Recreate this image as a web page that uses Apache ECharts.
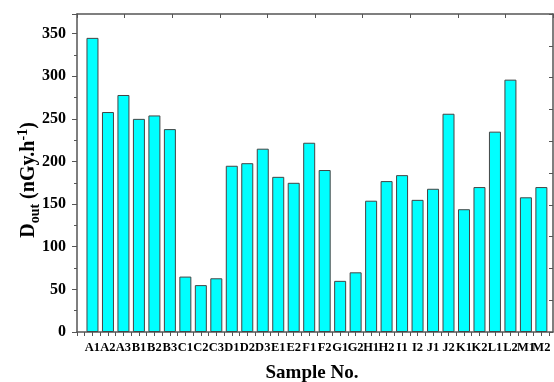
<!DOCTYPE html>
<html>
<head>
<meta charset="utf-8">
<script src="https://cdn.jsdelivr.net/npm/echarts@6/dist/echarts.min.js"></script>
<style>
  html, body { margin: 0; padding: 0; background: #fff; }
  #chart { width: 554px; height: 382px; }
</style>
</head>
<body>
<div id="chart"></div>
<script>
const samples = ['A1', 'A2', 'A3', 'B1', 'B2', 'B3', 'C1', 'C2', 'C3', 'D1', 'D2', 'D3', 'E1', 'E2', 'F1',
  'F2', 'G1', 'G2', 'H1', 'H2', 'I1', 'I2', 'J1', 'J2', 'K1', 'K2', 'L1', 'L2', 'M1', 'M2']
const dose = [345, 258, 278, 250, 254, 238, 65, 55, 63, 195, 198, 215, 182, 175, 222,
  190, 60, 70, 154, 177, 184, 155, 168, 256, 144, 170, 235, 296, 158, 170]
const yTicks = [0, 50, 100, 150, 200, 250, 300, 350]

const serif = 'Liberation Serif'
const axisColor = '#555'

const chart = echarts.init(document.getElementById('chart'))

chart.setOption({
  animation: false,
  grid: { left: 77, right: 1, top: 14, bottom: 50, outerBoundsMode: 'none' },
  xAxis: [{
    type: 'value',
    min: 0,
    max: 30.75,
    interval: 0.5,
    name: 'Sample No.',
    nameLocation: 'middle',
    nameGap: 32,
    nameMoveOverlap: false,
    nameTextStyle: { fontFamily: serif, fontWeight: 'bold', fontSize: 19, color: '#000', padding: [0, 6, 0, 0] },
    axisLine: { onZero: false, lineStyle: { color: axisColor, width: 1.5 } },
    axisTick: { inside: false, length: 4, lineStyle: { color: axisColor } },
    axisLabel: {
      margin: 9,
      showMaxLabel: false,
      fontFamily: serif, fontWeight: 'bold', fontSize: 12.5, color: '#000',
      formatter: v => (Number.isInteger(v) && v >= 1 && v <= samples.length) ? samples[v - 1] : ''
    },
    splitLine: { show: false }
  }, {
    type: 'value',
    position: 'top',
    min: 0, max: 10, interval: 1,
    axisLine: { onZero: false, lineStyle: { color: axisColor, width: 1.5 } },
    axisTick: { inside: true, length: 4, lineStyle: { color: axisColor } },
    axisLabel: { show: false },
    splitLine: { show: false }
  }],
  yAxis: [{
    type: 'value',
    min: 0,
    max: 373,
    interval: 50,
    name: '{a|D}{b|out}{a| (nGy.h}{c|-1}{a|)}',
    nameLocation: 'middle',
    nameGap: 35,
    nameMoveOverlap: false,
    nameTextStyle: {
      padding: [0, 14, 0, 0],
      rich: {
        a: { fontFamily: serif, fontWeight: 'bold', fontSize: 20, color: '#000', lineHeight: 26 },
        b: { fontFamily: serif, fontWeight: 'bold', fontSize: 14, color: '#000', lineHeight: 26, verticalAlign: 'bottom', padding: [10, 0, 0, 0] },
        c: { fontFamily: serif, fontWeight: 'bold', fontSize: 14, color: '#000', lineHeight: 26, verticalAlign: 'top', padding: [0, 0, 9, 0] }
      }
    },
    axisLine: { show: true, onZero: false, lineStyle: { color: axisColor, width: 1.5 } },
    axisTick: { show: true, inside: false, length: 5, lineStyle: { color: axisColor } },
    minorTick: { show: true, splitNumber: 2, length: 3, lineStyle: { color: axisColor } },
    axisLabel: {
      margin: 11,
      fontFamily: serif, fontWeight: 'bold', fontSize: 16, color: '#000',
      formatter: v => yTicks.includes(v) ? String(v) : ''
    },
    splitLine: { show: false }
  }, {
    type: 'value',
    position: 'right',
    min: 0, max: 10, interval: 1,
    axisLine: { show: true, onZero: false, lineStyle: { color: axisColor, width: 1.5 } },
    axisTick: { show: true, inside: true, length: 4, lineStyle: { color: axisColor } },
    axisLabel: { show: false },
    splitLine: { show: false }
  }],
  series: [{
    type: 'bar',
    xAxisIndex: 0,
    yAxisIndex: 0,
    barWidth: 12,
    data: dose.map((v, i) => [i + 1, v]),
    itemStyle: { color: '#00ffff', borderColor: '#444', borderWidth: 1 }
  }]
})
</script>
</body>
</html>
